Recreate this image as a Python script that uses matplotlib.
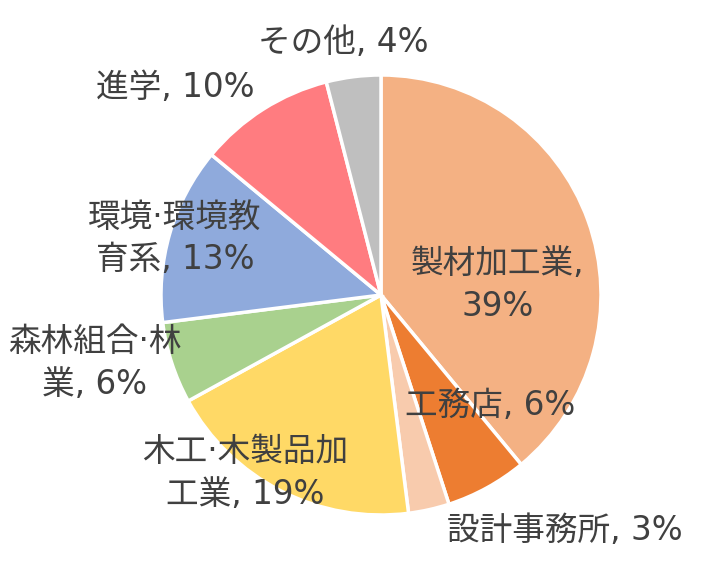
import matplotlib.pyplot as plt

# Latin glyphs from DejaVu (wide digits like the original), CJK falls back to Noto
plt.rcParams['font.family'] = ['DejaVu Sans', 'Noto Sans CJK JP']

labels = ['製材加工業', '工務店', '設計事務所', '木工·木製品加工業',
          '森林組合·林業', '環境·環境教育系', '進学', 'その他']
values = [39, 6, 3, 19, 6, 13, 10, 4]
colors = ['#F4B183', '#ED7D31', '#F8CBAD', '#FFD966',
          '#A9D18E', '#8FAADC', '#FF7C80', '#BFBFBF']

# label text (wrapped like the original) and position in pixels
label_txt = ['製材加工業,\n39%', '工務店, 6%', '設計事務所, 3%', '木工·木製品加\n工業, 19%',
             '森林組合·林\n業, 6%', '環境·環境教\n育系, 13%', '進学, 10%', 'その他, 4%']
label_px = [(498, 285), (490, 406), (565, 531), (245, 473),
            (95, 363), (175, 238), (175, 88), (343, 42)]

W, H = 720, 574
cx, cy, R = 381, 295, 220

fig = plt.figure(figsize=(W / 100, H / 100), dpi=100)
ax = fig.add_axes([0, 0, 1, 1])
ax.pie(values, colors=colors, startangle=90, counterclock=False, radius=1,
       wedgeprops=dict(edgecolor='white', linewidth=2.5))
ax.set_xlim(-cx / R, (W - cx) / R)
ax.set_ylim(-(H - cy) / R, cy / R)
ax.set_aspect('equal')
ax.axis('off')

for t, (px, py) in zip(label_txt, label_px):
    ax.text((px - cx) / R, (cy - py) / R, t, ha='center', va='center',
            fontsize=23.5, color='#404040', linespacing=1.35)

fig.savefig('out.png', dpi=100)
